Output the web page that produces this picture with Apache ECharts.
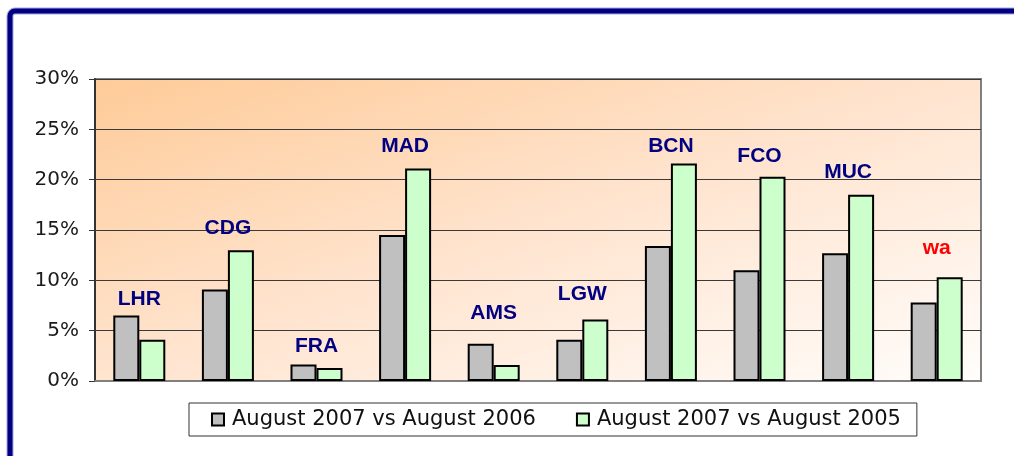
<!DOCTYPE html>
<html>
<head>
<meta charset="utf-8">
<script src="https://cdn.jsdelivr.net/npm/echarts@6/dist/echarts.min.js"></script>
<style>
  html, body { margin: 0; padding: 0; background: #fff; }
  #main { width: 1014px; height: 456px; }
</style>
</head>
<body>
<div id="main"></div>
<script type="text/javascript">
// aeroports
var airports = ['LHR', 'CDG', 'FRA', 'MAD', 'AMS', 'LGW', 'BCN', 'FCO', 'MUC', 'wa'];
// August 2007 vs August 2006
var vs2006 = [6.5, 9.1, 1.65, 14.5, 3.7, 4.1, 13.4, 11.0, 12.7, 7.8];
// August 2007 vs August 2005
var vs2005 = [4.1, 13.0, 1.3, 21.1, 1.6, 6.1, 21.6, 20.3, 18.5, 10.3];
// hauteur des etiquettes (en %)
var labelPos = [8.1, 15.2, 3.5, 23.3, 6.7, 8.6, 23.3, 22.3, 20.7, 13.2];
var labelColors = ['#000080', '#000080', '#000080', '#000080', '#000080', '#000080', '#000080', '#000080', '#000080', '#ff0000'];
var yTicks = [0, 5, 10, 15, 20, 25, 30];

var names = ['August 2007 vs August 2006', 'August 2007 vs August 2005'];

var labelData = [];
for (var i = 0; i < airports.length; i++) {
    labelData.push({
        value: labelPos[i],
        label: { color: labelColors[i] }
    });
}

var chart = echarts.init(document.getElementById('main'));

var option = {
    animation: false,
    backgroundColor: '#fff',
    graphic: [
        {
            type: 'rect',
            shape: { x: 10, y: 11, width: 1100, height: 600, r: 5 },
            style: { fill: 'none', stroke: '#a8a8e0', lineWidth: 7 },
            z: 100
        },
        {
            type: 'rect',
            shape: { x: 10, y: 11, width: 1100, height: 600, r: 5 },
            style: { fill: 'none', stroke: '#000080', lineWidth: 5 },
            z: 101
        }
    ],
    grid: {
        left: 95,
        top: 79,
        width: 886,
        height: 302,
        show: true,
        borderColor: '#808080',
        borderWidth: 2,
        // degrade en diagonale (coin haut gauche -> bas droite)
        backgroundColor: new echarts.graphic.LinearGradient(95, 79, 279.5, 620.2, [
            { offset: 0, color: '#fecb98' },
            { offset: 0.5, color: '#ffe4cf' },
            { offset: 1, color: '#fffdfb' }
        ], true)
    },
    legend: {
        data: names,
        left: 189,
        top: 403,
        orient: 'horizontal',
        icon: 'rect',
        itemWidth: 12,
        itemHeight: 12,
        itemGap: 40,
        padding: [6, 16, 6, 22],
        borderColor: '#333',
        borderWidth: 1,
        textStyle: {
            fontFamily: 'DejaVu Sans',
            fontSize: 21,
            color: '#111',
            lineHeight: 21,
            padding: [0, 0, 0, 3]
        }
    },
    xAxis: {
        type: 'category',
        data: airports,
        axisLine: { show: true, lineStyle: { color: '#808080', width: 2 } },
        axisTick: { show: false },
        axisLabel: { show: false },
        splitLine: { show: false }
    },
    yAxis: {
        type: 'value',
        min: yTicks[0],
        max: yTicks[yTicks.length - 1],
        interval: 5,
        axisLine: { show: true, lineStyle: { color: '#333', width: 2 } },
        axisTick: { show: true, length: 6, lineStyle: { color: '#333' } },
        axisLabel: {
            formatter: '{value}%',
            fontFamily: 'DejaVu Sans',
            fontSize: 20,
            color: '#1a1a1a',
            margin: 16
        },
        splitLine: { show: true, lineStyle: { color: '#3a3a3a', width: 1 } }
    },
    series: [
        {
            name: names[0],
            type: 'bar',
            data: vs2006,
            barWidth: 26,
            barGap: '0%',
            itemStyle: { color: '#c0c0c0', borderColor: '#000', borderWidth: 2 }
        },
        {
            name: names[1],
            type: 'bar',
            data: vs2005,
            barWidth: 26,
            barGap: '0%',
            itemStyle: { color: '#ccffcc', borderColor: '#000', borderWidth: 2 }
        },
        {
            name: 'labels',
            type: 'scatter',
            data: labelData,
            symbolSize: 1,
            itemStyle: { color: 'rgba(0,0,0,0)', opacity: 1 },
            silent: true,
            z: 10,
            label: {
                show: true,
                position: 'inside',
                formatter: '{b}',
                fontFamily: 'Liberation Sans',
                fontWeight: 'bold',
                fontSize: 21,
                textBorderWidth: 0,
                opacity: 1
            }
        }
    ]
};

chart.setOption(option);
</script>
</body>
</html>
